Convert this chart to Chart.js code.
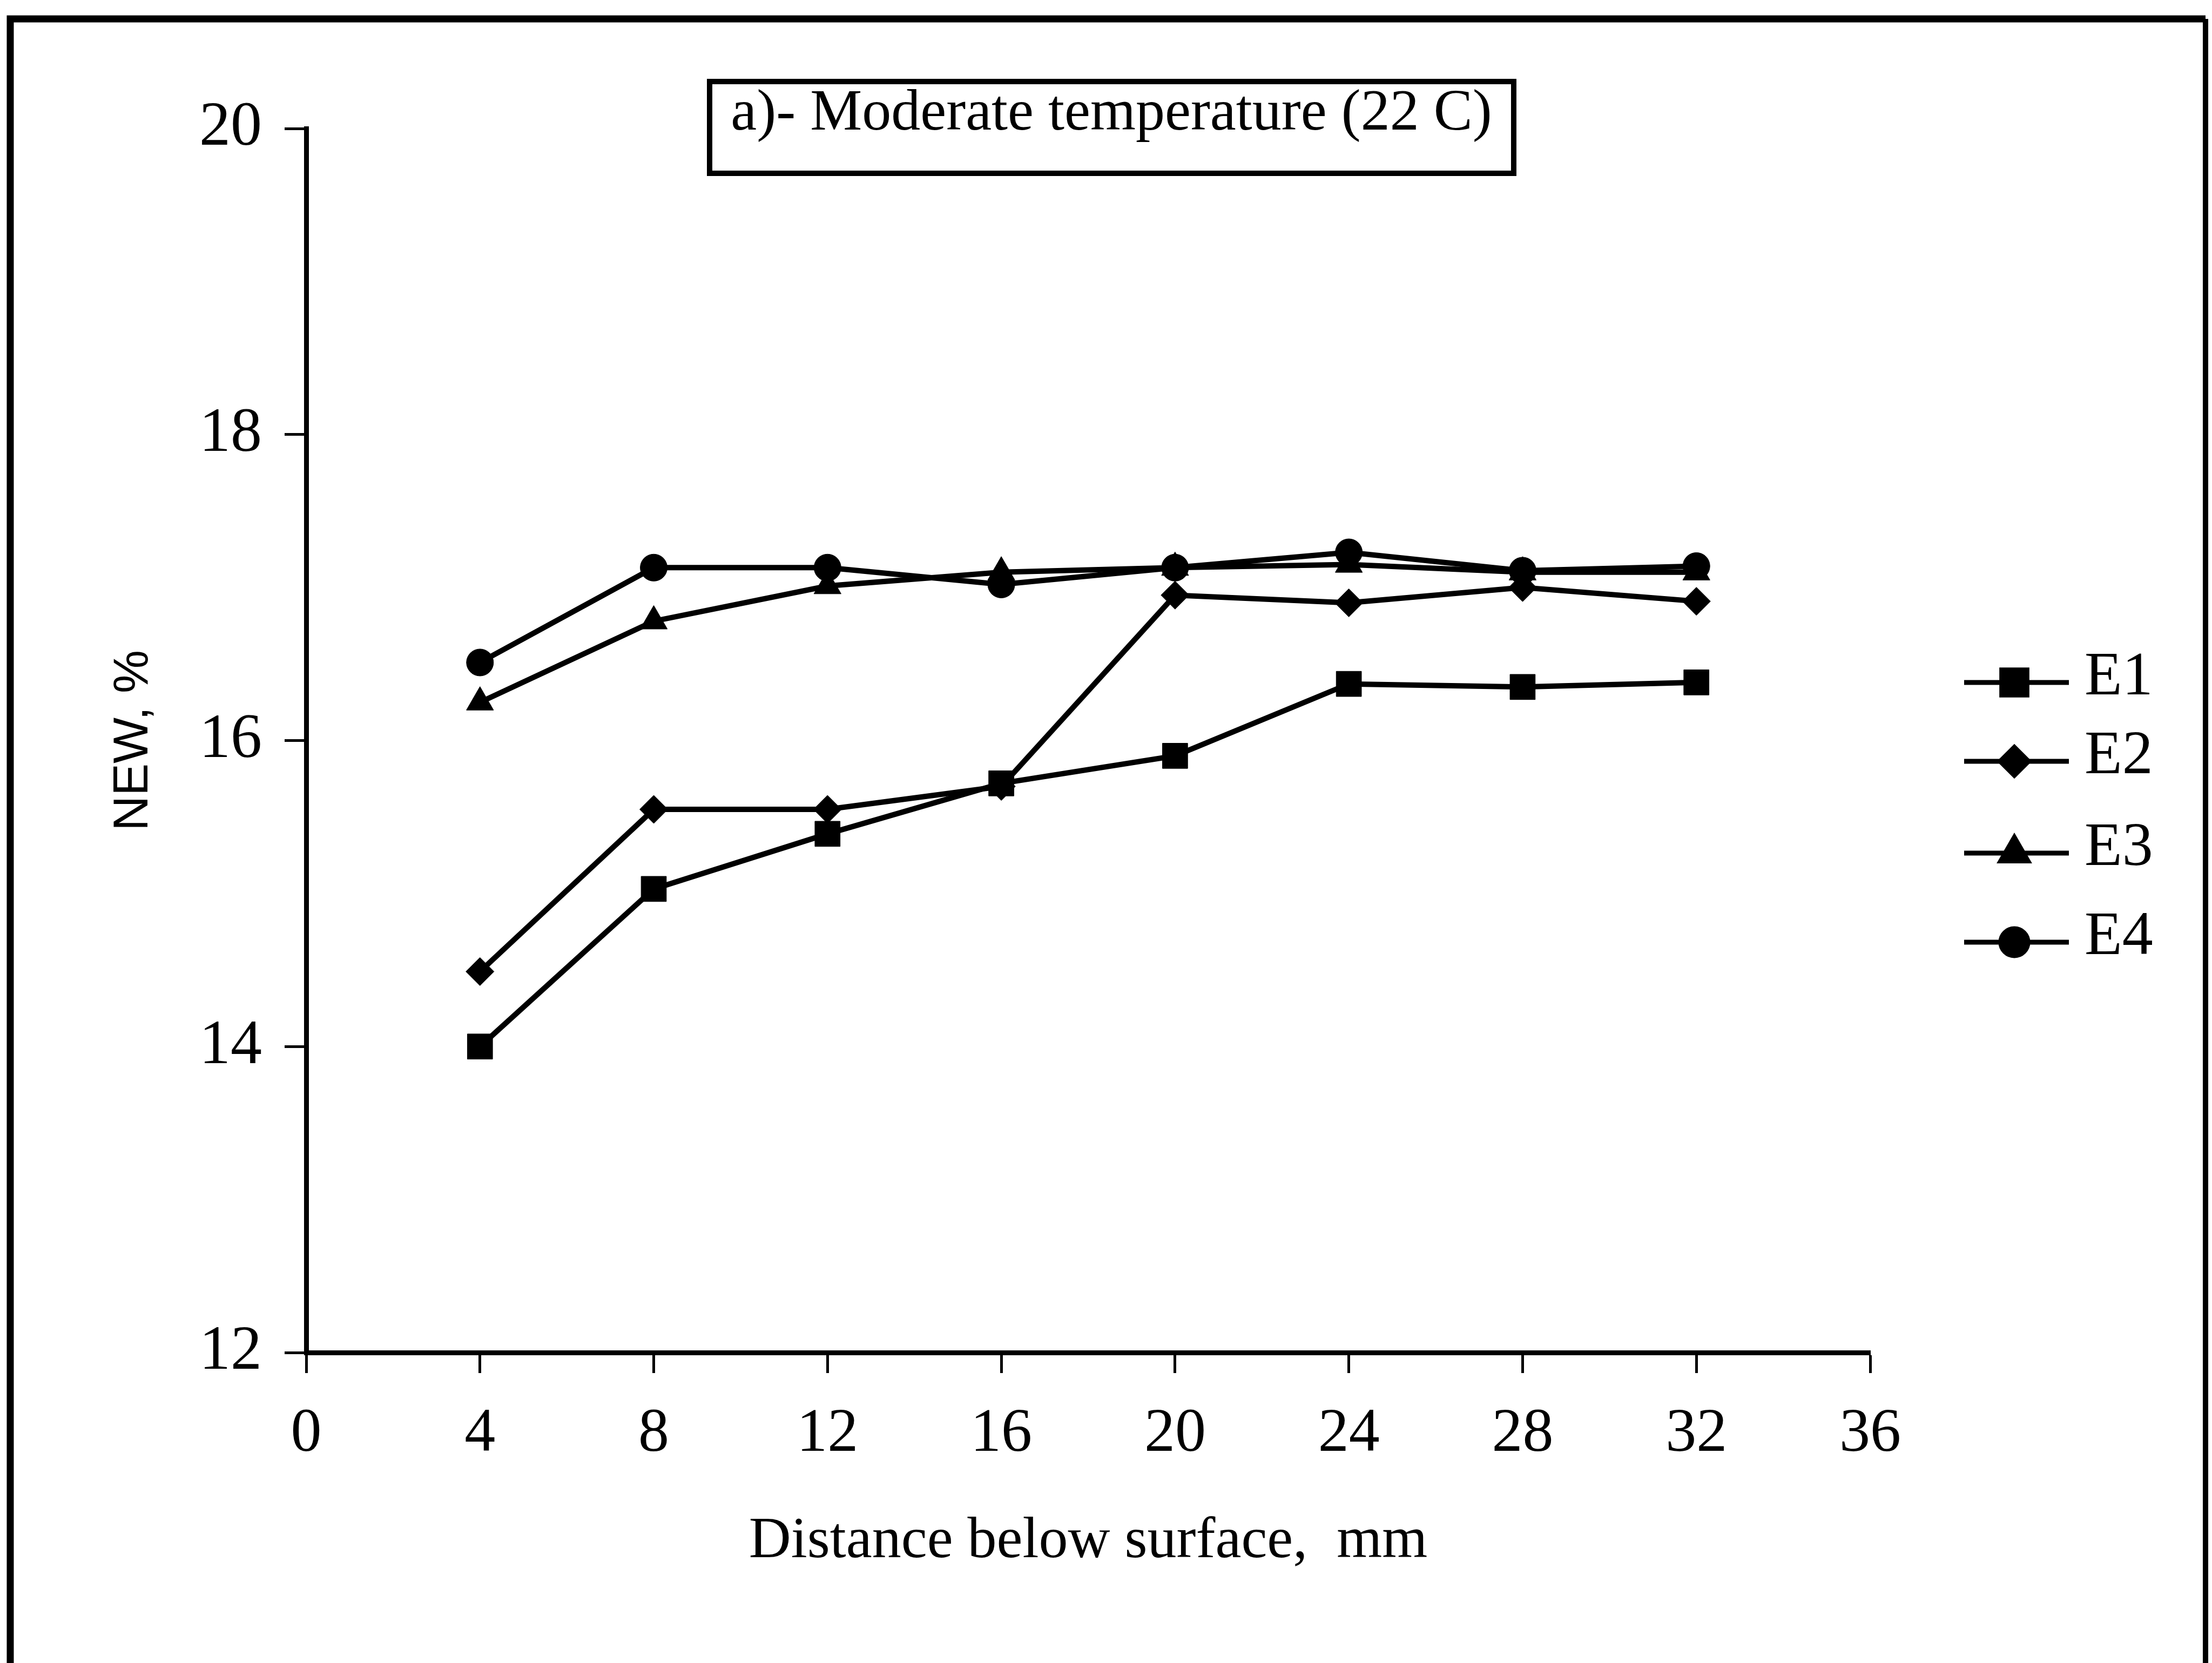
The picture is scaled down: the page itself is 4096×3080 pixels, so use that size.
<!DOCTYPE html>
<html>
<head>
<meta charset="utf-8">
<script src="https://cdn.jsdelivr.net/npm/chart.js@4/dist/chart.umd.min.js"></script>
<style>
  html, body { margin: 0; padding: 0; background: #fff; }
</style>
</head>
<body>
<canvas id="graficoLinea" width="4096" height="3080"></canvas>
<script>
// distance below surface, mm
const distances = [4, 8, 12, 16, 20, 24, 28, 32];
const seriesNames = ['E1', 'E2', 'E3', 'E4'];
const valuesE1 = [14.00, 15.03, 15.39, 15.72, 15.90, 16.37, 16.35, 16.38];
const valuesE2 = [14.49, 15.55, 15.55, 15.70, 16.95, 16.90, 17.00, 16.91];
const valuesE3 = [16.25, 16.78, 17.01, 17.10, 17.13, 17.15, 17.10, 17.10];
const valuesE4 = [16.51, 17.13, 17.13, 17.02, 17.13, 17.23, 17.11, 17.14];
const xTicks = [0, 4, 8, 12, 16, 20, 24, 28, 32, 36];
const yTicks = [12, 14, 16, 18, 20];
const titleText = 'a)- Moderate temperature (22 C)';

const markers = [
  { style: 'rect', radius: 33 },
  { style: 'rectRot', radius: 26 },
  { style: 'triangle', radius: 29 },
  { style: 'circle', radius: 25 }
];

function toPoints(values) {
  return values.map((v, i) => ({ x: distances[i], y: v }));
}

const allValues = [valuesE1, valuesE2, valuesE3, valuesE4];

const datasets = seriesNames.map((name, i) => ({
  label: name,
  data: toPoints(allValues[i]),
  borderColor: '#000',
  backgroundColor: '#000',
  borderWidth: 10,
  tension: 0,
  pointStyle: markers[i].style,
  pointRadius: markers[i].radius,
  pointHoverRadius: markers[i].radius,
  pointBackgroundColor: '#000',
  pointBorderColor: '#000',
  pointBorderWidth: 1
}));

// frame, boxed title and line+marker legend
const decorations = {
  id: 'decorations',
  afterDraw(chart) {
    const ctx = chart.ctx;
    ctx.save();
    ctx.strokeStyle = '#000';
    ctx.fillStyle = '#000';

    // outer frame (open at the bottom, as in the scan)
    ctx.lineWidth = 13;
    ctx.beginPath();
    ctx.moveTo(19, 3080);
    ctx.lineTo(19, 35);
    ctx.lineTo(4084, 35);
    ctx.stroke();
    ctx.lineWidth = 10;
    ctx.beginPath();
    ctx.moveTo(4084, 35);
    ctx.lineTo(4084, 3080);
    ctx.stroke();

    // title box
    ctx.fillStyle = '#fff';
    ctx.fillRect(1314, 151, 1489, 170);
    ctx.fillStyle = '#000';
    ctx.lineWidth = 10;
    ctx.strokeRect(1314, 151, 1489, 170);
    ctx.font = '108px "Liberation Serif"';
    ctx.textAlign = 'center';
    ctx.textBaseline = 'alphabetic';
    ctx.fillText(titleText, 2058, 240);

    // legend
    const rows = [1264, 1410, 1580, 1745];
    ctx.font = '114px "Liberation Serif"';
    ctx.textAlign = 'left';
    ctx.textBaseline = 'middle';
    chart.data.datasets.forEach((ds, i) => {
      const y = rows[i];
      ctx.lineWidth = 9;
      ctx.beginPath();
      ctx.moveTo(3637, y);
      ctx.lineTo(3831, y);
      ctx.stroke();
      Chart.helpers.drawPoint(ctx, {
        pointStyle: ds.pointStyle,
        radius: ds.pointRadius,
        rotation: 0,
        borderWidth: 1
      }, 3730, y);
      ctx.fillText(ds.label, 3860, y - 8);
    });
    ctx.restore();
  }
};

const ctx = document.getElementById('graficoLinea').getContext('2d');

new Chart(ctx, {
  type: 'line',
  data: { datasets },
  options: {
    responsive: false,
    animation: false,
    layout: { padding: { top: 238, right: 633, bottom: 0, left: 0 } },
    plugins: {
      legend: { display: false },
      tooltip: { enabled: false },
      title: { display: false }
    },
    scales: {
      x: {
        type: 'linear',
        min: 0,
        max: 36,
        afterFit(scale) { scale.height = 575; },
        afterBuildTicks(scale) { scale.ticks = xTicks.map(v => ({ value: v })); },
        border: { display: true, color: '#000', width: 9 },
        grid: { drawOnChartArea: false, drawTicks: true, tickLength: 38, tickWidth: 5, tickColor: '#000' },
        ticks: {
          color: '#000',
          padding: 46,
          maxRotation: 0,
          font: { family: 'Liberation Serif', size: 114, lineHeight: 1.2 }
        },
        title: {
          display: true,
          text: 'Distance below surface,  mm',
          color: '#000',
          font: { family: 'Liberation Serif', size: 108, lineHeight: 1.2 },
          padding: { top: 0, bottom: 160 }
        }
      },
      y: {
        min: 12,
        max: 20,
        afterFit(scale) { scale.width = 567; },
        afterBuildTicks(scale) { scale.ticks = yTicks.map(v => ({ value: v })); },
        border: { display: true, color: '#000', width: 9 },
        grid: { drawOnChartArea: false, drawTicks: true, tickLength: 40, tickWidth: 5, tickColor: '#000' },
        ticks: {
          color: '#000',
          padding: 42,
          font: { family: 'Liberation Serif', size: 116, lineHeight: 1.2 }
        },
        title: {
          display: true,
          text: 'NEW, %',
          color: '#000',
          font: { family: 'Liberation Sans', size: 90, lineHeight: 1.2 },
          padding: { top: 194, bottom: 0 }
        }
      }
    }
  },
  plugins: [decorations]
});
</script>
</body>
</html>
